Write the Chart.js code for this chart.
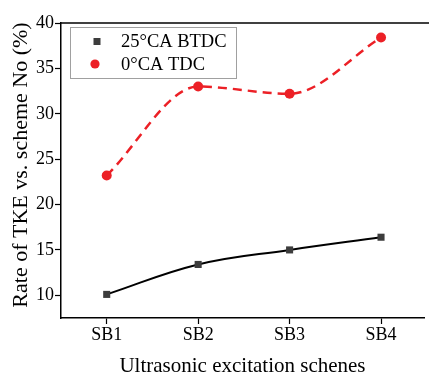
<!DOCTYPE html>
<html>
<head>
<meta charset="utf-8">
<script src="https://cdn.jsdelivr.net/npm/chart.js@4.4.0/dist/chart.umd.min.js"></script>
<style>
  html, body { margin: 0; padding: 0; background: #fff; }
  #wrap { width: 429px; height: 375px; }
</style>
</head>
<body>
<div id="wrap"><canvas id="tkeChart" width="429" height="375"></canvas></div>
<script>
// Schemes and TKE rates (%)
const schemes = ['SB1', 'SB2', 'SB3', 'SB4'];
const btdc25 = [10.1, 13.4, 15.0, 16.4];
const tdc0 = [23.2, 33.0, 32.2, 38.4];
const yTicks = [10, 15, 20, 25, 30, 35, 40];

const SERIF = "'Liberation Serif', 'Times New Roman', serif";
const RED = 'rgb(236, 32, 38)';
const GREY = 'rgb(60, 60, 60)';

const toPoints = arr => arr.map((v, i) => ({ x: i + 1, y: v }));

// Top frame line (right side is cut off)
const topFrame = {
  id: 'topFrame',
  afterDraw(chart) {
    const { ctx, chartArea } = chart;
    ctx.save();
    ctx.strokeStyle = '#000';
    ctx.lineWidth = 1.5;
    ctx.beginPath();
    ctx.moveTo(chartArea.left, chartArea.top);
    ctx.lineTo(chart.width, chartArea.top);
    ctx.stroke();
    ctx.restore();
  }
};

// Boxed legend inside the plot area
const boxLegend = {
  id: 'boxLegend',
  afterDraw(chart) {
    const { ctx } = chart;
    const ds = chart.data.datasets;
    ctx.save();
    ctx.strokeStyle = '#a0a0a0';
    ctx.lineWidth = 1;
    ctx.strokeRect(70.5, 27.5, 166, 51);
    ctx.font = '18.5px ' + SERIF;
    ctx.fillStyle = '#000';
    ctx.textBaseline = 'middle';
    ctx.fillText(ds[0].label, 121, 42);
    ctx.fillText(ds[1].label, 121, 65);
    ctx.fillStyle = ds[0].pointBackgroundColor;
    ctx.fillRect(93.5, 38, 7, 7);
    ctx.fillStyle = ds[1].pointBackgroundColor;
    ctx.beginPath();
    ctx.arc(95, 64, 4.6, 0, Math.PI * 2);
    ctx.fill();
    ctx.restore();
  }
};

new Chart(document.getElementById('tkeChart'), {
  type: 'line',
  data: {
    datasets: [{
      label: '25°CA BTDC',
      data: toPoints(btdc25),
      borderColor: '#000',
      borderWidth: 2,
      tension: 0.4,
      pointStyle: 'rect',
      pointRadius: 5,
      pointBackgroundColor: GREY,
      pointBorderColor: GREY,
      pointBorderWidth: 0
    }, {
      label: '0°CA TDC',
      data: toPoints(tdc0),
      borderColor: RED,
      borderWidth: 2.5,
      borderDash: [9, 6],
      cubicInterpolationMode: 'monotone',
      pointStyle: 'circle',
      pointRadius: 5,
      pointBackgroundColor: RED,
      pointBorderColor: RED,
      pointBorderWidth: 0
    }]
  },
  options: {
    responsive: false,
    animation: false,
    layout: { padding: { top: 23, right: 0, bottom: 0, left: 0 } },
    plugins: {
      legend: { display: false },
      tooltip: { enabled: false }
    },
    scales: {
      x: {
        type: 'linear',
        min: 0.5,
        max: 4.47,
        afterBuildTicks: axis => { axis.ticks = schemes.map((s, i) => ({ value: i + 1 })); },
        afterFit: axis => { axis.height = 57; },
        ticks: {
          callback: v => schemes[v - 1],
          font: { family: SERIF, size: 18 },
          color: '#000',
          padding: 0,
          maxRotation: 0
        },
        grid: { drawOnChartArea: false, drawTicks: true, tickLength: 6, color: '#000', tickWidth: 1.2 },
        border: { color: '#000', width: 1.5 },
        title: {
          display: true,
          text: 'Ultrasonic excitation schenes',
          font: { family: SERIF, size: 21 },
          color: '#000',
          padding: { top: 0, bottom: -4 }
        }
      },
      y: {
        min: 7.5,
        max: 40,
        afterBuildTicks: axis => { axis.ticks = yTicks.map(v => ({ value: v })); },
        afterFit: axis => { axis.width = 61; },
        ticks: {
          font: { family: SERIF, size: 18 },
          color: '#000',
          padding: 1
        },
        grid: { drawOnChartArea: false, drawTicks: true, tickLength: 6, color: '#000', tickWidth: 1.2 },
        border: { color: '#000', width: 1.5 },
        title: {
          display: true,
          // en space at the start nudges the rotated title toward the top
          text: '\u2002Rate of TKE vs. scheme No (%)',
          font: { family: SERIF, size: 22 },
          color: '#000',
          padding: { top: 8, bottom: 0 }
        }
      }
    }
  },
  plugins: [topFrame, boxLegend]
});
</script>
</body>
</html>
